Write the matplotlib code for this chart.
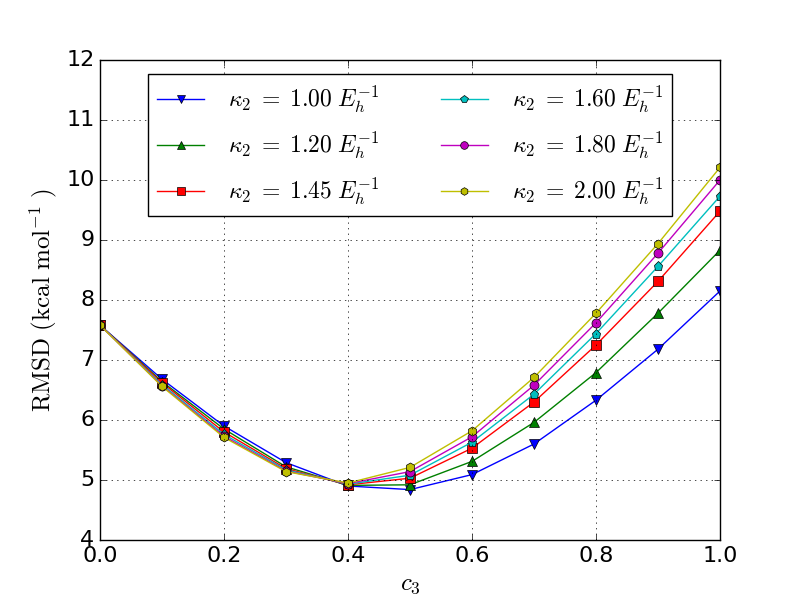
import numpy as np
import matplotlib
matplotlib.use("Agg")
import matplotlib.pyplot as plt

plt.style.use('classic')
plt.rcParams['mathtext.fontset'] = 'cm'

"""Data read off the reference"""
c3 = [0.0, 0.1, 0.2, 0.3, 0.4, 0.5, 0.6, 0.7, 0.8, 0.9, 1.0]

rmsd_100 = [7.58, 6.68, 5.90, 5.29, 4.90, 4.84, 5.09, 5.60, 6.33, 7.18, 8.15]
rmsd_120 = [7.58, 6.64, 5.85, 5.22, 4.91, 4.92, 5.31, 5.96, 6.79, 7.78, 8.83]
rmsd_145 = [7.58, 6.62, 5.80, 5.19, 4.92, 5.03, 5.53, 6.30, 7.25, 8.31, 9.48]
rmsd_160 = [7.58, 6.59, 5.76, 5.17, 4.93, 5.08, 5.63, 6.43, 7.44, 8.56, 9.73]
rmsd_180 = [7.58, 6.57, 5.73, 5.15, 4.94, 5.14, 5.72, 6.58, 7.62, 8.78, 10.00]
rmsd_200 = [7.58, 6.56, 5.71, 5.14, 4.95, 5.21, 5.82, 6.71, 7.78, 8.94, 10.21]

kappa_labels = ['1.00', '1.20', '1.45', '1.60', '1.80', '2.00']

"""Plotting"""
fig = plt.figure(figsize=(8, 6))
ax = fig.add_subplot(111)

series = [rmsd_100, rmsd_120, rmsd_145, rmsd_160, rmsd_180, rmsd_200]
styles = [('b', 'v'), ('g', '^'), ('r', 's'), ('c', 'p'), ('m', 'o'), ('y', 'h')]

for vals, lab, (col, mk) in zip(series, kappa_labels, styles):
    ax.plot(c3, vals, color=col, marker=mk, markersize=6.5,
            label=r'$\kappa_2\;=\;%s\;E_h^{-1}$' % lab)

ax.set_xlim(0, 1)
ax.set_ylim(4, 12)
ax.grid(True)
ax.tick_params(labelsize=16)
ax.set_xlabel(r'$c_3$', fontsize=18)
ax.set_ylabel(r'$\mathrm{RMSD\ (kcal\ mol^{-1}\ )}$', fontsize=18)
ax.legend(loc='upper center', ncol=2, numpoints=1, fontsize=17,
          markerscale=0.85, labelspacing=0.6, borderaxespad=0.6,
          columnspacing=2.6, handletextpad=1.0)

fig.savefig('out.png', dpi=100)
